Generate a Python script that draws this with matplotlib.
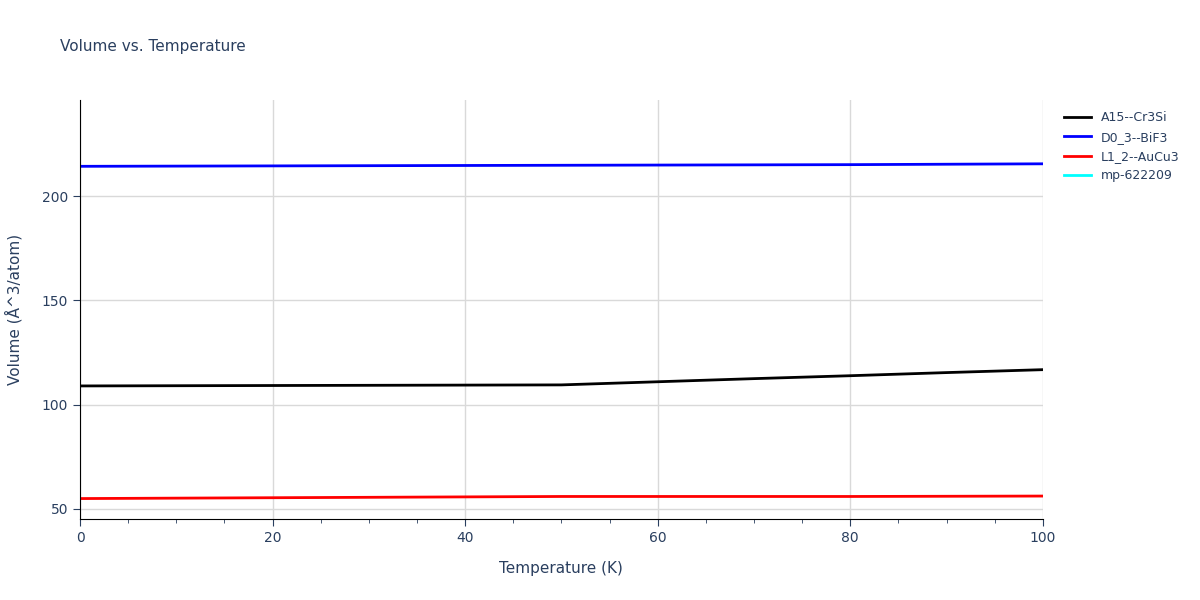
import matplotlib
matplotlib.use("Agg")
import matplotlib.pyplot as plt
from matplotlib.ticker import MultipleLocator

temps = [0, 10, 20, 30, 40, 50, 60, 70, 80, 90, 100]
a15 = [109.0, 109.1, 109.2, 109.3, 109.4, 109.5, 111.0, 112.5, 113.9, 115.4, 116.8]
d03 = [214.3, 214.4, 214.5, 214.6, 214.7, 214.8, 214.9, 215.0, 215.1, 215.3, 215.5]
l12 = [55.0, 55.2, 55.4, 55.6, 55.8, 56.0, 56.0, 56.0, 56.0, 56.1, 56.2]
mp_t = []
mp_v = []

fig = plt.figure(figsize=(12, 6), dpi=100)
ax = fig.add_axes([0.0667, 0.135, 0.8023, 0.698])
ax.plot(temps, a15, color="black", lw=2, label="A15--Cr3Si")
ax.plot(temps, d03, color="blue", lw=2, label="D0_3--BiF3")
ax.plot(temps, l12, color="red", lw=2, label="L1_2--AuCu3")
ax.plot(mp_t, mp_v, color="cyan", lw=2, label="mp-622209")

ax.set_xlim(0, 100)
ax.set_ylim(45.2, 246)
ax.set_xticks([0, 20, 40, 60, 80, 100])
ax.set_yticks([50, 100, 150, 200])
ax.xaxis.set_minor_locator(MultipleLocator(5))
ax.grid(True, color="#d9d9d9", lw=1)
ax.set_axisbelow(True)
for s in ["top", "right"]:
    ax.spines[s].set_visible(False)
ax.tick_params(axis="both", which="both", direction="out", colors="#2a3f5f", labelsize=10)
ax.tick_params(which="major", length=5)
ax.tick_params(which="minor", length=3)
ax.set_xlabel("Temperature (K)", color="#2a3f5f", fontsize=11, labelpad=12)
ax.set_ylabel("Volume (Å^3/atom)", color="#2a3f5f", fontsize=11, labelpad=14)
fig.text(0.05, 0.915, "Volume vs. Temperature", color="#2a3f5f", fontsize=11)
ax.legend(loc="upper left", bbox_to_anchor=(1.01, 1.0), frameon=False, fontsize=9,
          labelcolor="#2a3f5f", handlelength=2.2)
fig.savefig("out.png")
